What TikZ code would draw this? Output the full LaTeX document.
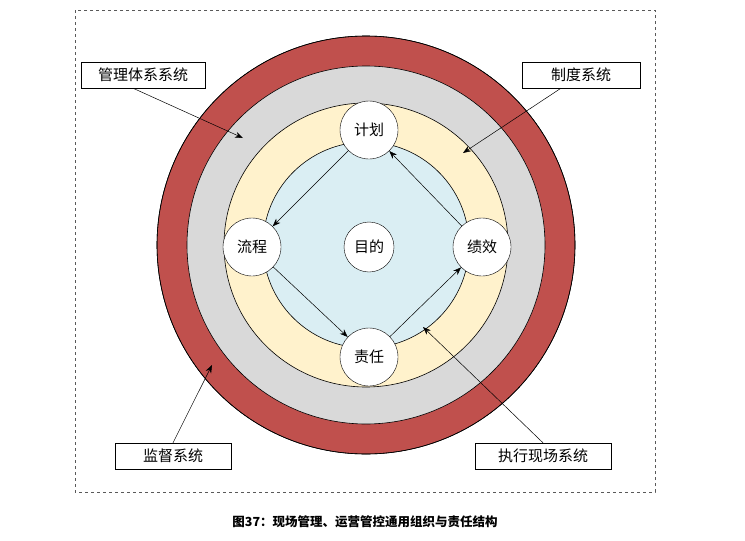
\documentclass[tikz,border=0pt]{standalone}
\usepackage{fontspec}
\setmainfont{Noto Sans CJK SC}
\usetikzlibrary{arrows.meta}
\begin{document}
\begin{tikzpicture}[x=1pt,y=-1pt,
  ring/.style={draw=black,line width=0.6pt},
  sm/.style={circle,draw=black,fill=white,minimum size=58pt,inner sep=0pt,font=\fontsize{15}{15}\selectfont},
  lab/.style={draw=black,fill=white,inner sep=0pt,minimum height=26pt,font=\fontsize{15}{15}\selectfont},
  arr/.style={-{Stealth[length=8pt,width=6pt]},line width=0.5pt}]
\useasboundingbox (0,0) rectangle (745,541);
\draw[dashed,gray!70!black] (75,10) rectangle (655,492);
\fill[ring,fill=red!60!black!80!red,fill={rgb,255:red,192;green,80;blue,77}] (366,245) circle (209);
\draw[ring,fill={rgb,255:red,217;green,217;blue,217}] (366,245) circle (179);
\draw[ring,fill={rgb,255:red,255;green,242;blue,204}] (366,245) circle (142);
\draw[ring,fill={rgb,255:red,218;green,238;blue,243}] (366,245) circle (103);
\draw[ring] (366,245) circle (209);
\node[sm] (jh) at (369,130) {计划};
\node[sm] (lc) at (252,247) {流程};
\node[sm] (jx) at (482,247) {绩效};
\node[sm] (zr) at (369,357) {责任};
\node[sm,minimum size=50pt] (md) at (369,247) {目的};
\draw[arr] (jh) -- (lc);
\draw[arr] (lc) -- (zr);
\draw[arr] (zr) -- (jx);
\draw[arr] (jx) -- (jh);
\node[lab,minimum width=124pt] (l1) at (143,75) {管理体系系统};
\node[lab,minimum width=118pt] (l2) at (581,75) {制度系统};
\node[lab,minimum width=116pt] (l3) at (173,456) {监督系统};
\node[lab,minimum width=136pt] (l4) at (543,456) {执行现场系统};
\coordinate (t1) at (243,138);
\coordinate (t2) at (463,153);
\coordinate (t3) at (212,365);
\coordinate (t4) at (423,327);
\draw[arr] (l1.south) ++(-10,0) -- (t1);
\draw[arr] (l2.south) ++(-20,0) -- (t2);
\draw[arr] (l3.north) -- (t3);
\draw[arr] (l4.north) -- (t4);
\node[font=\bfseries\fontsize{12.5}{12.5}\selectfont] (cap) at (365,522) {图37：现场管理、运营管控通用组织与责任结构};
\end{tikzpicture}
\end{document}
